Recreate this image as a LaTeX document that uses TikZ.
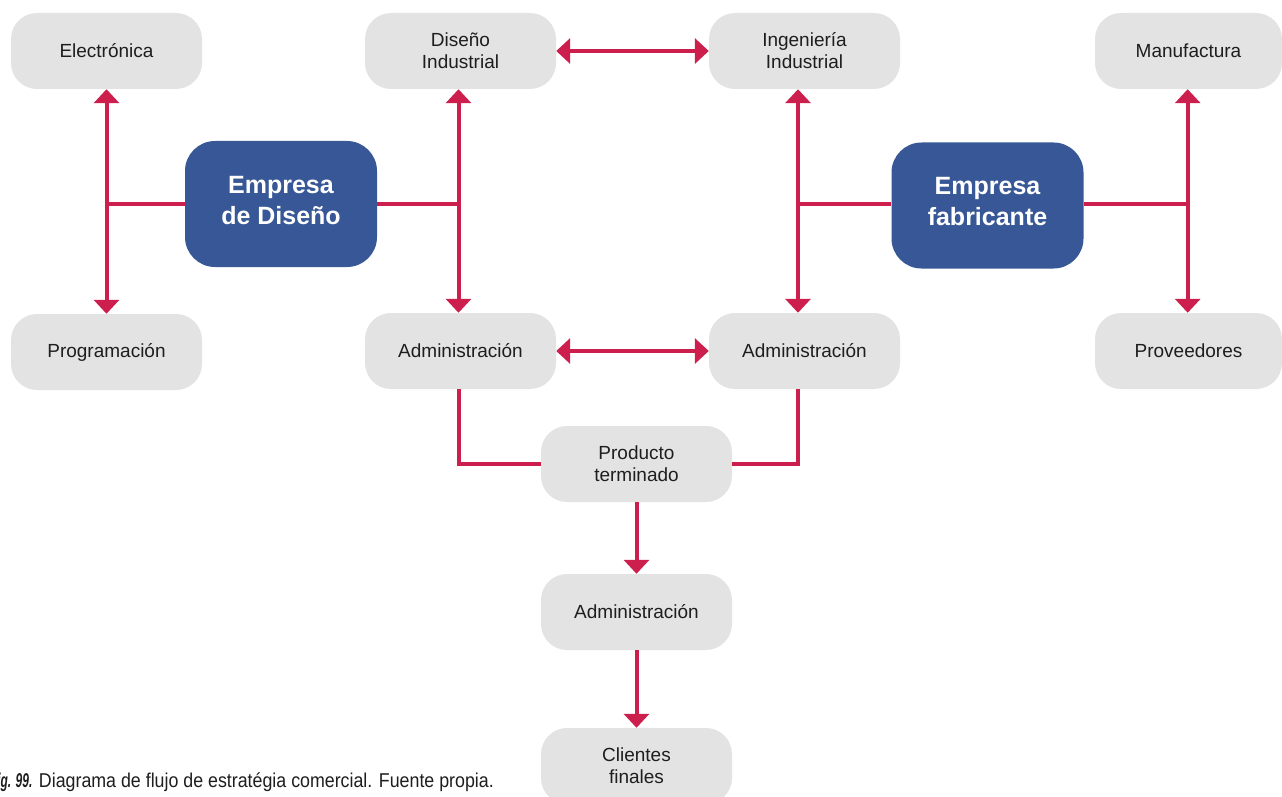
\documentclass[tikz,border=0pt]{standalone}
\usepackage{fontspec}
\setmainfont{Liberation Sans}
\newfontfamily\capfont[FakeStretch=0.89]{Liberation Sans}
\newfontfamily\capboldfont[FakeStretch=0.6, UprightFont={* Bold Italic}]{Liberation Sans}
\usetikzlibrary{arrows.meta}

\definecolor{linkred}{HTML}{CC1F4D}
\definecolor{corpblue}{HTML}{375796}
\definecolor{boxgray}{HTML}{E3E3E3}
\definecolor{inkgray}{HTML}{1E1E1E}

\begin{document}
\begin{tikzpicture}[x=1pt,y=-1pt,
  area/.style={fill=boxgray, rounded corners=26pt, minimum width=191pt,
    minimum height=76pt, inner sep=0pt, align=center, text=inkgray,
    font=\fontsize{19}{22}\selectfont},
  firm/.style={fill=corpblue, rounded corners=30pt, minimum width=192pt,
    minimum height=126pt, inner sep=0pt, align=center, text=white,
    text depth=8pt, font=\fontsize{25}{31}\selectfont\bfseries},
  link/.style={draw=linkred, line width=4pt},
  tip/.style={-{Triangle[width=25pt,length=14pt]}},
  tips/.style={{Triangle[width=25pt,length=14pt]}-{Triangle[width=25pt,length=14pt]}},
]
\path[use as bounding box] (0,0) rectangle (1282,797);
\clip (0,0) rectangle (1282,797);

% departments
\node[area] (elec)   at (106.5,51)  {Electrónica};
\node[area] (prog)   at (106.5,352) {Programación};
\node[area] (disind) at (460.5,51)  {Diseño\\Industrial};
\node[area] (ingind) at (804.5,51)  {Ingeniería\\Industrial};
\node[area, minimum width=187pt] (manuf) at (1188.5,51)  {Manufactura};
\node[area] (adminL) at (460.5,351) {Administración};
\node[area] (adminR) at (804.5,351) {Administración};
\node[area, minimum width=187pt] (prov)  at (1188.5,351) {Proveedores};
\node[area] (prod)   at (636.5,464) {Producto\\terminado};
\node[area] (adminC) at (636.5,612) {Administración};
\node[area] (client) at (636.5,766) {Clientes\\finales};

% companies
\node[firm] (empdis) at (281,204)    {Empresa\\de Diseño};
\node[firm] (empfab) at (987.5,205.5) {Empresa\\fabricante};

% bus junctions
\coordinate (busE) at (106.5,204);
\coordinate (busL) at (458.5,204);
\coordinate (busR) at (798,204);
\coordinate (busF) at (1187.7,204);

% design company links
\draw[link, tips] (elec) -- (prog);
\draw[link] (empdis.west |- busE) -- (busE);
\draw[link, tips] (disind.south -| busL) -- (adminL.north -| busL);
\draw[link] (empdis.east |- busL) -- (busL);

% manufacturer links
\draw[link, tips] (ingind.south -| busR) -- (adminR.north -| busR);
\draw[link] (busR) -- (busR -| empfab.west);
\draw[link, tips] (manuf.south -| busF) -- (prov.north -| busF);
\draw[link] (empfab.east |- busF) -- (busF);

% cross links
\draw[link, tips] (disind) -- (ingind);
\draw[link, tips] (adminL) -- (adminR);

% product flow
\draw[link] (adminL.south -| busL) |- (prod.west);
\draw[link] (adminR.south -| busR) |- (prod.east);
\draw[link, tip] (prod) -- (adminC);
\draw[link, tip] (adminC) -- (client);

% caption
\node[anchor=base east, inner sep=0pt, text=inkgray,
  font=\capfont\fontsize{20}{24}\selectfont] (caption) at (494,787)
  {{\capboldfont Fig. 99.} Diagrama de flujo de estratégia comercial. Fuente propia.};
\end{tikzpicture}
\end{document}
